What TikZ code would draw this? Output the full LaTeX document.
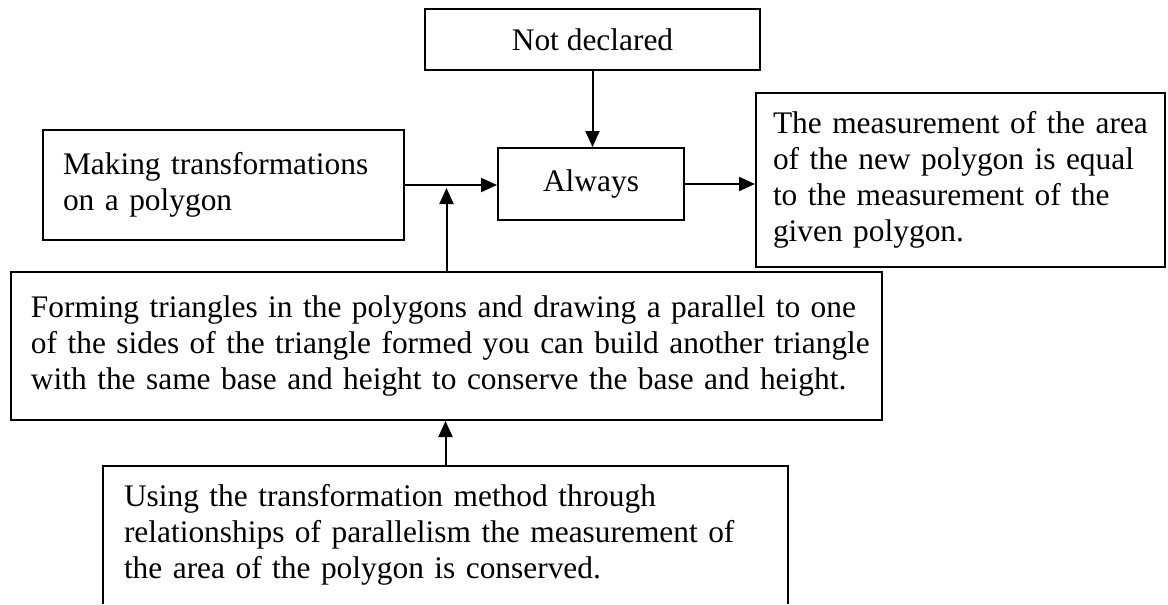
\documentclass[tikz,border=0pt]{standalone}
\usepackage{fontspec}
\setmainfont{Liberation Serif}
\usetikzlibrary{arrows.meta}
\begin{document}
\begin{tikzpicture}[x=0.5pt,y=-0.5pt,
  box/.style={draw,line width=1pt,inner sep=0pt,font=\fontsize{15.7}{18}\selectfont},
  textbox/.style={box,align=left,inner xsep=10pt},
  arr/.style={line width=1pt,-{Triangle[length=8pt,width=7pt]}}]
\fill[white] (0,0) rectangle (1168,603);
\node[box,minimum width=167.5pt,minimum height=30.5pt] (nd) at (592.5,39.5) {Not declared};
\node[textbox,text width=160.5pt,minimum height=55pt] (mk) at (223.5,185) {Making transformations\\on a polygon};
\node[box,minimum width=93pt,minimum height=36pt] (al) at (591,184) {Always};
\node[textbox,inner xsep=8.5pt,text width=187.5pt,minimum height=87pt] (rs) at (960.5,180) {\mbox{The measurement of the area}\\\mbox{of the new polygon is equal}\\\mbox{to the measurement of the}\\given polygon.};
\node[textbox,text width=415.5pt,minimum height=74pt] (fm) at (446.5,346) {\mbox{Forming triangles in the polygons and drawing a parallel to one}\\\mbox{of the sides of the triangle formed you can build another triangle}\\\mbox{with the same base and height to conserve the base and height.}};
\node[textbox,draw=none,text width=321.5pt,minimum height=68pt] (us) at (445.5,535) {Using the transformation method through\\\mbox{relationships of parallelism the measurement of}\\the area of the polygon is conserved.};
\draw[line width=1pt] (us.south west) |- (us.north east) -- (us.south east);
\draw[arr] (nd.south) -- (nd.south |- al.north);
\draw[arr] (mk.east) -- (mk.east -| al.west);
\draw[arr] (al.east) -- (al.east -| rs.west);
\draw[arr,shorten >=1.5pt] (fm.north) -- (fm.north |- mk.east);
\draw[arr] (us.north) -- (us.north |- fm.south);
\end{tikzpicture}
\end{document}
